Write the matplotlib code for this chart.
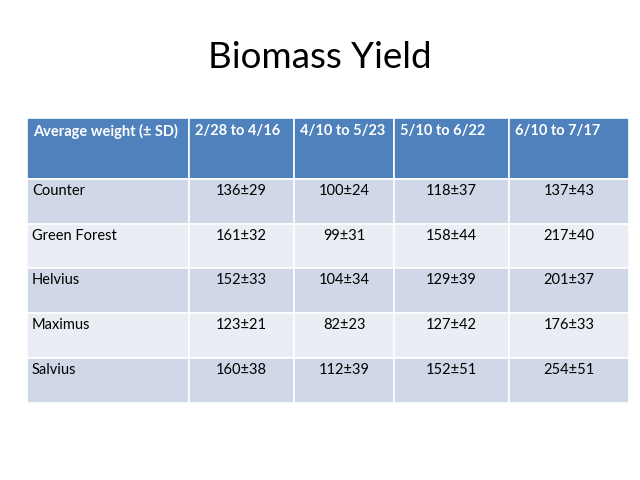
import matplotlib
matplotlib.use("Agg")
import matplotlib.pyplot as plt
from matplotlib.patches import Rectangle

plt.rcParams["font.family"] = ["Lato", "DejaVu Sans"]

title = "Biomass Yield"
header = ["Average weight (± SD)", "2/28 to 4/16", "4/10 to 5/23", "5/10 to 6/22", "6/10 to 7/17"]
varieties = ["Counter", "Green Forest", "Helvius", "Maximus", "Salvius"]
means = [
    [136, 100, 118, 137],
    [161, 99, 158, 217],
    [152, 104, 129, 201],
    [123, 82, 127, 176],
    [160, 112, 152, 254],
]
sds = [
    [29, 24, 37, 43],
    [32, 31, 44, 40],
    [33, 34, 39, 37],
    [21, 23, 42, 33],
    [38, 39, 51, 51],
]

# table layout in slide pixels
col_edges = [27, 189, 294, 394, 509, 629]
row_edges = [118, 179, 224, 268, 313, 358, 403]

head_color = "#4F81BD"
band_colors = ["#D0D8E8", "#E9EDF4"]

fig = plt.figure(figsize=(6.4, 4.8), dpi=100)
ax = fig.add_axes([0, 0, 1, 1])
ax.set_xlim(0, 640)
ax.set_ylim(480, 0)
ax.axis("off")

ax.text(320, 58, title, ha="center", va="center", fontsize=26.5, color="black")

def cell(r, c, color):
    x0, x1 = col_edges[c], col_edges[c + 1]
    y0, y1 = row_edges[r], row_edges[r + 1]
    ax.add_patch(Rectangle((x0, y0), x1 - x0, y1 - y0, facecolor=color,
                           edgecolor="white", linewidth=1.2))

for c, h in enumerate(header):
    cell(0, c, head_color)
    ax.text(col_edges[c] + 6, row_edges[0] + 13, h, ha="left", va="center",
            fontsize=10.5, fontweight="bold", color="white")

for i, name in enumerate(varieties):
    r = i + 1
    color = band_colors[i % 2]
    cell(r, 0, color)
    ax.text(col_edges[0] + 5, row_edges[r] + 12, name, ha="left", va="center",
            fontsize=10.5, color="black")
    for j in range(4):
        c = j + 1
        cell(r, c, color)
        xc = (col_edges[c] + col_edges[c + 1]) / 2
        ax.text(xc, row_edges[r] + 12, f"{means[i][j]}±{sds[i][j]}",
                ha="center", va="center", fontsize=10.5, color="black")

fig.savefig("out.png", dpi=100)
